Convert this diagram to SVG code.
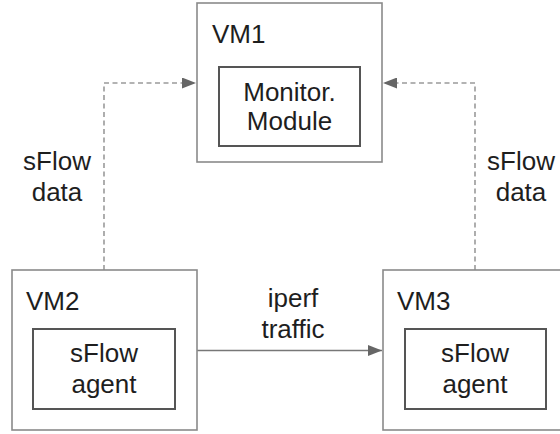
<svg xmlns="http://www.w3.org/2000/svg" width="560" height="434" viewBox="0 0 560 434">
  <style>
    .vm { fill: #fff; stroke: #8a8a8a; stroke-width: 1.6; }
    .inner { fill: #fff; stroke: #555; stroke-width: 2; }
    text { font-family: "Liberation Sans", Arial, sans-serif; font-size: 26px; fill: #1e1e1e; }
    .c { text-anchor: middle; }
    .solid { fill: none; stroke: #777; stroke-width: 1.6; }
    .dash { fill: none; stroke: #9a9a9a; stroke-width: 1.6; stroke-dasharray: 5 3.5; }
  </style>
  <defs>
    <marker id="tri" viewBox="0 0 14 11" refX="14" refY="5.5" markerWidth="14" markerHeight="11" markerUnits="userSpaceOnUse" orient="auto">
      <path d="M0,0 L14,5.5 L0,11 Z" fill="#666"/>
    </marker>
  </defs>

  <g id="connectors">
    <path class="dash" d="M104,270 V83 H196" marker-end="url(#tri)"/>
    <path class="dash" d="M475,270 V83 H383" marker-end="url(#tri)"/>
    <path class="solid" d="M197,350.5 H382" marker-end="url(#tri)"/>
    <text class="c" x="57" y="170">sFlow</text>
    <text class="c" x="57" y="201">data</text>
    <text class="c" x="521" y="170">sFlow</text>
    <text class="c" x="521" y="201">data</text>
    <text class="c" x="293" y="307">iperf</text>
    <text class="c" x="293" y="338">traffic</text>
  </g>

  <g id="vm1">
    <rect class="vm" x="197" y="3" width="185" height="159"/>
    <text x="212" y="43">VM1</text>
    <rect class="inner" x="219" y="67" width="141" height="79"/>
    <text class="c" x="289.5" y="101">Monitor.</text>
    <text class="c" x="289.5" y="130">Module</text>
  </g>

  <g id="vm2">
    <rect class="vm" x="12" y="270" width="185" height="160"/>
    <text x="26" y="310">VM2</text>
    <rect class="inner" x="33" y="329" width="142" height="80"/>
    <text class="c" x="104" y="362">sFlow</text>
    <text class="c" x="104" y="393">agent</text>
  </g>

  <g id="vm3">
    <rect class="vm" x="383" y="270" width="185" height="160"/>
    <text x="397" y="310">VM3</text>
    <rect class="inner" x="405" y="329" width="141" height="80"/>
    <text class="c" x="475" y="362">sFlow</text>
    <text class="c" x="475" y="393">agent</text>
  </g>
</svg>
